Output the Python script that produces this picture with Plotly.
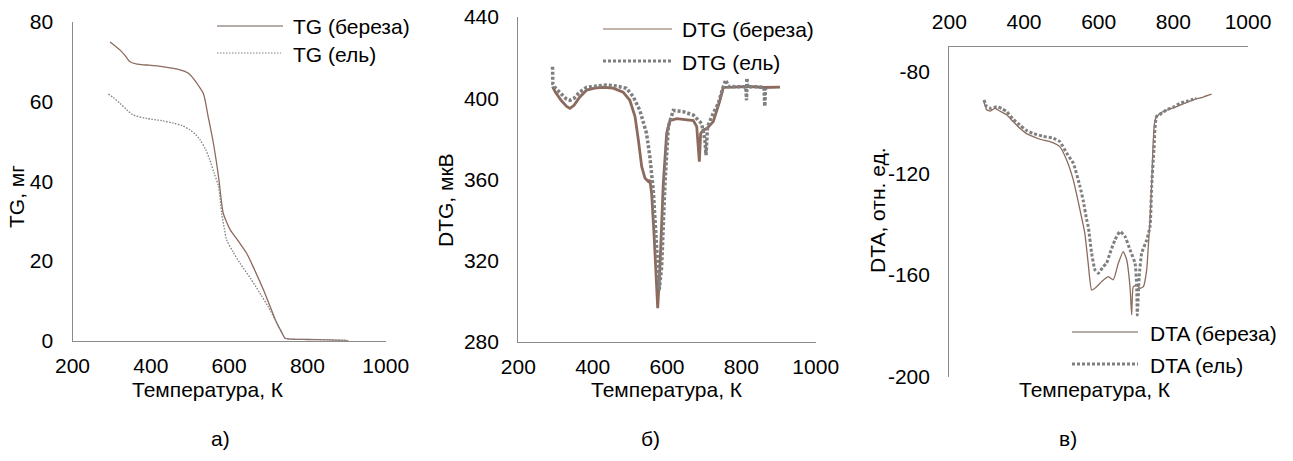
import plotly.graph_objects as go

# ---- TG, mg ----
tg_t_birch = [296, 321, 335, 347, 365, 390, 430, 475, 495, 509, 522, 534, 547, 560, 573, 585, 595, 603,
              625, 645, 665, 688, 705, 722, 735, 743, 760, 800, 850, 905]
tg_birch = [75.0, 73.0, 71.5, 70.0, 69.4, 69.2, 68.8, 68.0, 67.2, 65.8, 64.0, 62.1, 56.0, 49.5, 41.2, 32.0,
            29.5, 27.8, 24.8, 21.9, 17.8, 12.7, 8.5, 4.4, 2.0, 0.6, 0.4, 0.3, 0.2, 0.0]
tg_t_spruce = [292, 305, 321, 338, 355, 389, 430, 458, 480, 500, 513, 526, 540, 551, 562, 573, 581, 588, 594,
               610, 628, 655, 679, 700, 722, 735, 743, 760, 800, 850, 900]
tg_spruce = [61.9, 61.0, 59.6, 58.0, 56.7, 55.8, 55.2, 54.6, 54.0, 52.9, 51.9, 50.4, 48.0, 45.3, 42.0, 38.7, 32.0,
             28.0, 25.3, 22.3, 19.4, 15.6, 11.9, 8.5, 4.4, 2.0, 0.6, 0.4, 0.3, 0.2, 0.1]

# ---- DTG, µV ----
dtg_t_birch = [292, 300, 315, 330, 339, 350, 365, 384, 405, 428, 455, 482, 500, 514, 523, 532, 541, 550, 554,
               558.7, 565, 572, 575, 581, 590, 599, 608, 626, 650, 671, 680, 684, 687, 690.5, 697.6, 706.6,
               724.5, 742.5, 751.4, 780, 820, 860, 904]
dtg_birch = [405.7, 403, 399, 396, 395, 396.5, 400.5, 404, 405, 405.4, 405, 403, 399, 391, 379.4, 366.3, 360.6,
             359, 359.7, 353, 333.5, 309, 296.6, 317, 358, 382.7, 389, 390, 389.5, 389, 386, 378, 368.8, 382.7,
             384.4, 385, 388.5, 399, 405.4, 405.5, 405.8, 405.3, 405.5]
dtg_t_spruce = [292, 293, 300, 315, 330, 339, 350, 365, 384, 410, 437.6, 465, 491, 509, 527, 545, 554, 563, 572,
                579, 585.6, 594.5, 603.5, 617, 644, 671, 693, 702, 705, 709, 724.5, 738, 751, 758, 765, 790, 812,
                814, 815, 817, 840, 861, 863, 865]
dtg_spruce = [415.5, 407, 405, 402, 399.5, 399, 400, 403, 405.4, 406, 406.5, 406, 404.9, 400.8, 394, 382.7, 371,
              354.8, 330, 305.6, 317, 358, 386, 394, 393.4, 391.7, 387.6, 379.4, 372, 386, 392.6, 397.5, 405.4,
              409, 405.8, 405.5, 405.6, 399, 410, 405.5, 405.7, 405.3, 396, 405]

# ---- DTA, rel. units ----
dta_t_birch = [293, 300, 310, 322, 335, 353.5, 370, 389, 405, 425, 445, 469.6, 496, 514, 532, 550, 563, 572,
               581.4, 594.7, 608, 625.8, 639.2, 652.6, 666, 675, 684, 688.4, 692.8, 701.9, 710.8, 719.8, 728.6,
               733, 737.5, 742, 751, 764, 785, 809, 830, 853.5, 880, 902.5]
dta_birch = [-91.8, -95, -95.5, -94.4, -95.5, -97, -99.5, -102.3, -104.2, -105.6, -106.7, -107.5, -109.5, -114.7,
             -122.6, -134.4, -143.6, -155.4, -165.9, -164.6, -162.6, -160.6, -161.9, -155.4, -150.8, -154, -164.6,
             -175.7, -164.6, -164, -165.2, -164.6, -158, -148.8, -138.3, -124, -99, -96.4, -95, -93.8, -92.5,
             -91.1, -90, -88.9]
dta_t_spruce = [293, 300, 312, 326.8, 340, 353.5, 370, 389, 405, 425, 450, 478.5, 496, 514, 532, 550, 559, 568,
                572.3, 581.2, 590.2, 599, 612.4, 621, 630.4, 643.8, 657.2, 670.6, 684, 697.5, 701.9, 703.5, 708.6,
                715.3, 728.6, 737.5, 742, 748, 755, 770, 782, 800, 818, 840, 862]
dta_spruce = [-91.1, -93.8, -94.5, -93.8, -94.5, -95.7, -98.5, -101, -103, -104.3, -105.4, -106.2, -107.5, -112,
              -116, -125.2, -131, -138.3, -141, -151.4, -158, -159.3, -156.7, -155.4, -151.4, -146.2, -142.9,
              -144.9, -150.1, -155.4, -164.6, -175.7, -160.6, -151.4, -146.2, -141, -125.2, -110.8, -97.7, -96.3,
              -95, -94, -92.5, -91.5, -90.5]

x_ticks = [200, 400, 600, 800, 1000]
tg_ticks = [0, 20, 40, 60, 80]
dtg_ticks = [280, 320, 360, 400, 440]
dta_ticks = [-200, -160, -120, -80]

W, H = 1293, 461
FONT = "Liberation Sans, Arial, sans-serif"
FS = 21
BROWN = "#8C6A5D"
GRAY = "#7F7F7F"
AXIS = "#8A8A8A"


def px(x):
    return x / W


def py(y):
    return 1 - y / H


fig = go.Figure()

# panel a
fig.add_trace(go.Scatter(x=tg_t_birch, y=tg_birch, mode="lines", xaxis="x", yaxis="y",
                         line=dict(color=BROWN, width=1.3, shape="spline", smoothing=0.8), showlegend=False))
fig.add_trace(go.Scatter(x=tg_t_spruce, y=tg_spruce, mode="lines", xaxis="x", yaxis="y",
                         line=dict(color=GRAY, width=1.3, dash="1.5px,1.5px", shape="spline", smoothing=0.8),
                         showlegend=False))
# panel b
fig.add_trace(go.Scatter(x=dtg_t_birch, y=dtg_birch, mode="lines", xaxis="x2", yaxis="y2",
                         line=dict(color=BROWN, width=2.8), showlegend=False))
fig.add_trace(go.Scatter(x=dtg_t_spruce, y=dtg_spruce, mode="lines", xaxis="x2", yaxis="y2",
                         line=dict(color=GRAY, width=3.5, dash="3px,2px"), showlegend=False))
# panel c
fig.add_trace(go.Scatter(x=dta_t_birch, y=dta_birch, mode="lines", xaxis="x3", yaxis="y3",
                         line=dict(color=BROWN, width=1.3, shape="spline", smoothing=0.5), showlegend=False))
fig.add_trace(go.Scatter(x=dta_t_spruce, y=dta_spruce, mode="lines", xaxis="x3", yaxis="y3",
                         line=dict(color=GRAY, width=3, dash="3px,2px", shape="spline", smoothing=0.5),
                         showlegend=False))

axis_common = dict(showline=True, linecolor=AXIS, linewidth=1.3, showgrid=False, zeroline=False,
                   automargin=False, ticks="", fixedrange=True,
                   tickfont=dict(family=FONT, size=FS, color="#000000"))

fig.update_layout(
    width=W, height=H,
    margin=dict(l=0, r=0, t=0, b=0),
    paper_bgcolor="white", plot_bgcolor="white",
    font=dict(family=FONT, size=FS, color="#000000"),
    xaxis=dict(domain=[px(72.5), px(385.7)], range=[200, 1000], tickvals=x_ticks, anchor="y",
               ticklabelstandoff=6, **axis_common),
    yaxis=dict(domain=[py(340.7), py(22)], range=[0, 80], tickvals=tg_ticks, anchor="x",
               ticklabelstandoff=14, **axis_common),
    xaxis2=dict(domain=[px(518.3), px(815.7)], range=[200, 1000], tickvals=x_ticks, anchor="y2",
                ticklabelstandoff=6, **axis_common),
    yaxis2=dict(domain=[py(342), py(17)], range=[280, 440], tickvals=dtg_ticks, anchor="x2",
                ticklabelstandoff=14, **axis_common),
    xaxis3=dict(domain=[px(949.3), px(1248)], range=[200, 1000], tickvals=x_ticks, anchor="y3",
                side="top", ticklabelstandoff=8, **axis_common),
    yaxis3=dict(domain=[py(376.7), py(46.7)], range=[-200, -70.2], tickvals=dta_ticks,
                ticktext=[str(v) for v in dta_ticks], anchor="x3",
                ticklabelstandoff=14, **axis_common),
)

annotations = []
shapes = []


def text(x, y, s, angle=0, xanchor="center"):
    annotations.append(dict(x=px(x), y=py(y), xref="paper", yref="paper", text=s, showarrow=False,
                            textangle=angle, xanchor=xanchor, yanchor="middle",
                            font=dict(family=FONT, size=FS, color="#000000")))


def legend_row(x0, x1, y, tx, label, color, width, dash):
    shapes.append(dict(type="line", xref="paper", yref="paper", x0=px(x0), x1=px(x1), y0=py(y), y1=py(y),
                       line=dict(color=color, width=width, dash=dash)))
    text(tx, y + 1, label, xanchor="left")


# axis titles
text(208, 389, "Температура, К")
text(667, 389, "Температура, К")
text(1095, 389, "Температура, К")
text(17, 197, "TG, мг", angle=-90)
text(445, 200, "DTG, мкВ", angle=-90)
text(877, 210, "DTA, отн. ед.", angle=-90)

# panel captions
text(221, 438, "а)")
text(650, 438, "б)")
text(1068, 438, "в)")

# legends
legend_row(217, 283, 26, 291, "TG (береза)", "#6E5A52", 1.2, "solid")
legend_row(217, 281, 53, 291, "TG (ель)", GRAY, 1.2, "1.5px,1.5px")
legend_row(603, 672, 29, 680, "DTG (береза)", BROWN, 1.2, "solid")
legend_row(603, 672, 61, 680, "DTG (ель)", GRAY, 3, "3px,2px")
legend_row(1072, 1138, 332, 1148, "DTA (береза)", "#6E5A52", 1.2, "solid")
legend_row(1072, 1138, 364, 1148, "DTA (ель)", GRAY, 3, "3px,2px")

fig.update_layout(annotations=annotations, shapes=shapes)

fig.write_html("out.html")
